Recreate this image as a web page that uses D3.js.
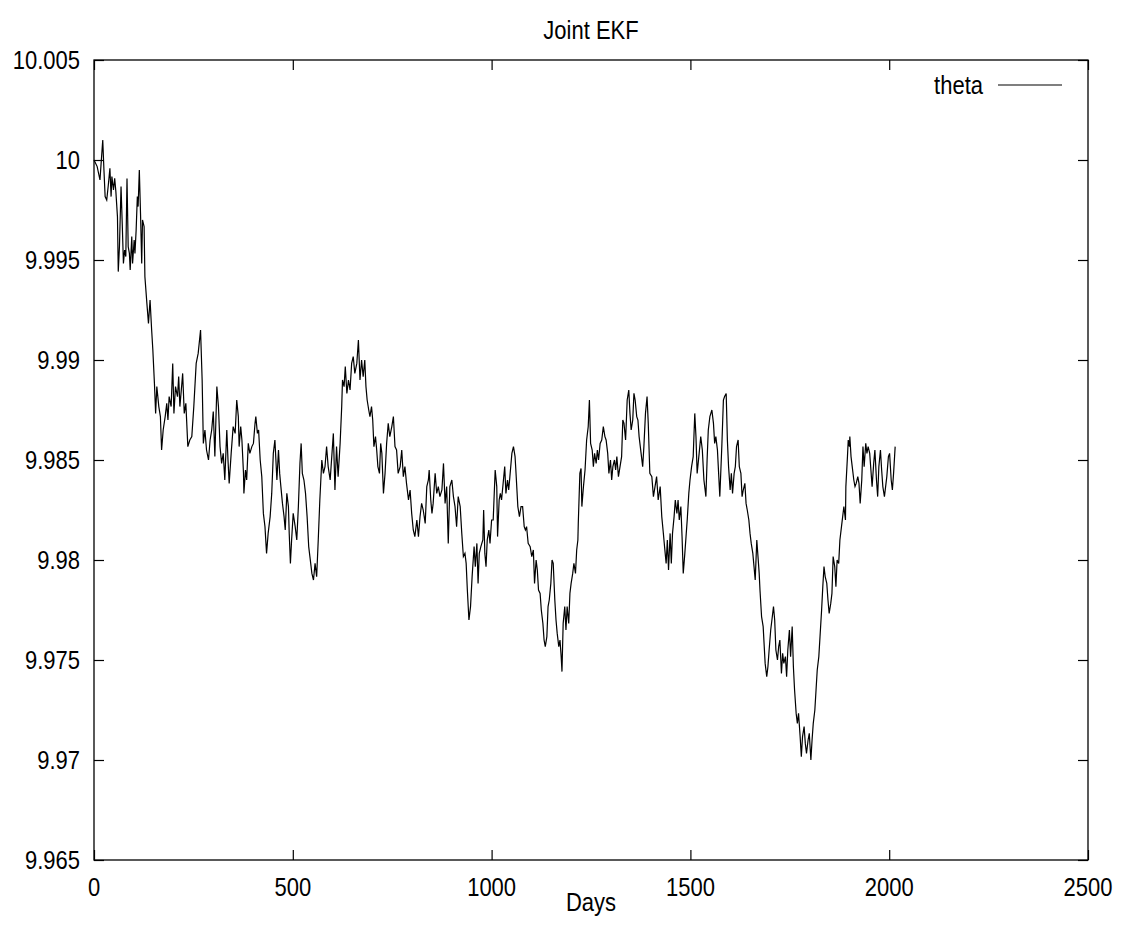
<!DOCTYPE html>
<html>
<head>
<meta charset="utf-8">
<script src="https://cdn.jsdelivr.net/npm/d3@7/dist/d3.min.js"></script>
<style>
  html, body { margin: 0; padding: 0; background: #fff; }
  text { font-family: "Liberation Sans", Arial, Helvetica, sans-serif; fill: #000; }
</style>
</head>
<body>
<svg id="chart" width="1133" height="944"></svg>
<script>
const title = "Joint EKF";
const xLabel = "Days";
const seriesName = "theta";
const xTicks = [0, 500, 1000, 1500, 2000, 2500];
const yTicks = [9.965, 9.97, 9.975, 9.98, 9.985, 9.99, 9.995, 10, 10.005];
const yTickLabels = ["9.965", "9.97", "9.975", "9.98", "9.985", "9.99", "9.995", "10", "10.005"];

const days = [
0,8,15,22,25,28,32,36,40,43,45,49,52,55,59,61,64,68,71,74,77,80,83,86,89,91,95,97,101,103,106,109,111,114,117,120,122,126,128,133,137,141,145,148,152,155,158,163,167,170,174,179,183,186,189,194,198,201,205,210,213,216,221,223,227,231,236,241,246,251,257,262,268,272,275,279,283,288,
292,296,300,304,309,313,317,321,325,329,334,337,340,345,350,355,359,363,365,369,372,376,377,381,384,388,392,397,401,405,407,411,414,418,422,426,430,434,438,443,447,451,455,460,464,467,470,474,478,481,485,489,491,494,497,501,506,510,514,518,521,524,528,532,536,540,543,548,552,556,560,564,568,573,577,581,585,589,594,
602,606,610,614,619,623,625,629,632,636,640,644,648,652,656,661,665,669,673,677,681,684,687,691,694,698,701,704,708,711,714,718,721,724,728,732,736,740,744,749,753,757,761,765,770,774,778,782,786,791,795,799,803,807,812,816,820,824,828,833,837,841,843,847,850,853,858,862,866,870,875,879,883,887,891,895,
900,904,908,912,916,921,925,929,933,936,939,943,947,951,956,959,963,966,969,973,978,980,983,986,989,993,996,1000,1004,1009,1013,1015,1019,1022,1025,1029,1033,1036,1040,1043,1046,1051,1055,1059,1061,1066,1070,1074,1078,1082,1085,1088,1092,1097,
1101,1105,1108,1112,1115,1118,1122,1125,1129,1132,1135,1139,1142,1145,1149,1152,1155,1159,1162,1165,1169,1172,1175,1177,1180,1184,1187,1190,1194,1197,1200,1204,1207,1211,1214,1217,
1218,1222,1225,1227,1231,1235,1239,1243,1246,1249,1253,1256,1259,1263,1266,1269,1273,1277,1281,1285,1288,1292,1295,1299,1302,1305,1309,1312,1315,1319,1323,1327,1330,1333,1337,1341,1345,1348,1351,1355,1358,1361,1365,1368,1371,1376,1380,1383,1387,1391,1394,1398,1403,1407,1411,1415,1419,1424,1428,1432,1435,1439,1442,1445,1449,1452,1455,1459,1462,1466,1469,1472,1476,1479,1482,1486,1489,1492,1496,1499,
1503,1507,1511,1514,1517,1522,1526,1530,1534,1539,1542,1545,1549,1554,1558,1561,1564,1568,1571,1574,1579,1583,1586,1590,1593,1596,1600,1603,1606,1610,1613,1616,1620,1623,1627,1630,1633,1637,1640,1643,1647,1650,1653,1657,1660,1663,1667,1670,1673,
1675,1679,1683,1688,1692,1695,1698,1702,1705,1709,1712,1715,1719,1722,1725,1729,1732,1735,1739,1742,1745,1749,1752,1756,1759,1762,1766,1769,1772,1776,1779,1782,1786,1789,1792,1796,1799,1803,1806,1809,1813,1816,1819,1823,1826,
1830,1833,1836,1839,1843,1846,1849,1853,1856,1859,1863,1866,1869,1873,1876,1880,1883,1886,1890,1891,1895,1897,1900,1901,1904,1907,1911,1914,1917,1921,1924,1927,1931,1934,1937,1941,1944,1947,1951,1954,1957,1961,1964,1968,1971,1974,1978,1981,1984,1988,1991,1994,1998,2001,2005,2008,2011,2015
];

const theta = [
10.0000,9.99967,9.9990,10.0010,9.9995,9.99817,9.9980,9.99875,9.99958,9.99817,9.99917,9.9985,9.99908,9.99842,9.99717,9.99442,9.99567,9.99867,9.99683,9.99483,9.9955,9.99517,9.99908,9.99567,9.99533,9.9945,9.99617,9.99483,9.996,9.99533,9.9965,9.99817,9.99767,9.9995,9.99733,9.99483,9.997,9.99667,9.99417,9.99283,9.99183,9.993,9.9915,9.9905,9.98883,9.98733,9.98867,9.98767,9.98717,9.9855,9.9865,9.98717,9.98783,9.987,9.98817,9.98767,9.98983,9.98733,9.98867,9.98817,9.98917,9.98767,9.98883,9.98933,9.98733,9.98783,9.98567,9.986,9.98617,9.98767,9.98983,9.99033,9.9915,9.989,9.98583,9.9865,9.9855,9.985,
9.986,9.9865,9.98742,9.98517,9.98867,9.98767,9.98567,9.98483,9.98533,9.984,9.9865,9.985,9.98383,9.98533,9.98667,9.98633,9.988,9.98717,9.98567,9.98667,9.986,9.98433,9.98333,9.9845,9.984,9.98583,9.98533,9.98567,9.98583,9.98683,9.98717,9.98633,9.9865,9.985,9.98417,9.98233,9.98167,9.98033,9.98133,9.98217,9.98333,9.98533,9.986,9.984,9.9855,9.98433,9.98367,9.98283,9.98217,9.9815,9.98333,9.98267,9.98133,9.97983,9.981,9.98233,9.98167,9.981,9.98267,9.98483,9.98583,9.98433,9.984,9.98333,9.98217,9.98067,9.98017,9.97933,9.979,9.97983,9.97917,9.981,9.983,9.985,9.98433,9.98467,9.98567,9.98467,9.984,
9.98633,9.9835,9.98567,9.98417,9.98583,9.98767,9.989,9.98867,9.98967,9.98833,9.989,9.9885,9.98983,9.99017,9.98933,9.98983,9.9910,9.989,9.9900,9.98917,9.9900,9.98867,9.988,9.9875,9.98717,9.98767,9.987,9.98567,9.98617,9.9855,9.98467,9.98433,9.98583,9.98533,9.98333,9.98433,9.98583,9.98683,9.98617,9.98667,9.98717,9.98567,9.9855,9.98433,9.98467,9.9855,9.98417,9.98467,9.98383,9.983,9.9835,9.98233,9.9815,9.98117,9.982,9.98117,9.98217,9.98283,9.9825,9.98183,9.98367,9.984,9.9845,9.983,9.98233,9.98283,9.98433,9.98333,9.98367,9.98317,9.9835,9.98483,9.98283,9.98367,9.98083,9.98367,
9.984,9.98317,9.98267,9.98167,9.98317,9.98267,9.98133,9.98017,9.98033,9.97983,9.9785,9.9770,9.97767,9.97917,9.98067,9.97967,9.98083,9.97883,9.98033,9.98067,9.9810,9.9825,9.98033,9.97967,9.9810,9.9815,9.98083,9.9820,9.9820,9.9845,9.98367,9.98117,9.9830,9.98333,9.9830,9.98383,9.98467,9.98333,9.9840,9.9835,9.98417,9.98533,9.98567,9.98517,9.9845,9.98267,9.98217,9.98267,9.98267,9.98167,9.9815,9.98167,9.98083,9.98067,
9.98017,9.9805,9.97883,9.9800,9.9795,9.9785,9.97833,9.9775,9.97683,9.9760,9.97567,9.97617,9.97767,9.9780,9.97883,9.9800,9.97983,9.9780,9.9770,9.97633,9.97567,9.9760,9.97517,9.97442,9.97683,9.97767,9.9765,9.97767,9.97683,9.97833,9.97883,9.97933,9.97983,9.97933,9.9805,9.9810,
9.98183,9.98433,9.98458,9.98267,9.98367,9.9845,9.9860,9.98667,9.9880,9.98583,9.9855,9.98467,9.98533,9.98483,9.9855,9.9850,9.98583,9.9860,9.98667,9.98617,9.9860,9.98533,9.98433,9.9850,9.9840,9.98467,9.9850,9.9845,9.98517,9.98417,9.98467,9.98517,9.9870,9.98683,9.9860,9.9880,9.9885,9.98733,9.9865,9.9870,9.98833,9.9880,9.98717,9.9870,9.98617,9.98533,9.98467,9.98567,9.98733,9.98817,9.98683,9.98433,9.98417,9.98317,9.98367,9.98417,9.9830,9.98367,9.98217,9.98133,9.98067,9.97983,9.9810,9.9795,9.98133,9.97983,9.98133,9.98217,9.9830,9.98233,9.9830,9.9820,9.98267,9.98117,9.97933,9.98033,9.98117,9.9820,9.98333,9.9840,
9.98467,9.98517,9.98733,9.98617,9.98433,9.98533,9.98617,9.9855,9.9840,9.98317,9.9850,9.9865,9.98717,9.9875,9.98683,9.98583,9.98617,9.9855,9.98433,9.98317,9.98567,9.9880,9.98817,9.98833,9.9860,9.98467,9.9835,9.98433,9.98333,9.98433,9.98467,9.98567,9.9860,9.98467,9.98433,9.98317,9.9835,9.98383,9.98283,9.9825,9.9820,9.98133,9.98083,9.98033,9.97967,9.9790,9.9810,9.98017,9.97933,
9.9785,9.97717,9.97667,9.97483,9.97417,9.97467,9.9755,9.9765,9.9770,9.97767,9.9770,9.9755,9.9750,9.97567,9.9760,9.97433,9.97533,9.97483,9.97517,9.97417,9.9755,9.9765,9.97517,9.97667,9.97467,9.9735,9.97233,9.97183,9.97233,9.97117,9.97017,9.97117,9.97167,9.97083,9.97033,9.9710,9.97133,9.9700,9.9710,9.97183,9.9725,9.9735,9.9745,9.97517,9.97617,
9.9775,9.97867,9.97967,9.97917,9.97883,9.9780,9.97733,9.97783,9.97833,9.98017,9.97967,9.97867,9.9800,9.97983,9.9810,9.98167,9.98217,9.98267,9.9820,9.98367,9.98517,9.9860,9.98567,9.98617,9.98517,9.98467,9.9840,9.98367,9.98383,9.98417,9.98383,9.98283,9.9840,9.98567,9.98467,9.98583,9.98533,9.98567,9.98533,9.9845,9.98367,9.98483,9.9855,9.9840,9.98317,9.98467,9.9855,9.9845,9.98367,9.98317,9.98367,9.98417,9.98517,9.98533,9.9840,9.9835,9.98433,9.98567
];

const W = 1133, H = 944;
const margin = { left: 94, right: 1088, top: 60, bottom: 860 };
const svg = d3.select("#chart");

const x = d3.scaleLinear().domain([0, 2500]).range([margin.left, margin.right]);
const y = d3.scaleLinear().domain([9.965, 10.005]).range([margin.bottom, margin.top]);

const FS = 22, SY = 1.14;
function label(px, py, str, anchor) {
  svg.append("text")
    .attr("transform", `translate(${px},${py}) scale(1,${SY})`)
    .attr("text-anchor", anchor)
    .attr("font-size", FS)
    .text(str);
}

// ticks (inward, mirrored on all four sides)
const tickLen = 10;
const axisStyle = g => {
  g.select(".domain").remove();
  g.selectAll(".tick line").attr("stroke", "#000").attr("stroke-width", 1.2);
  g.selectAll(".tick text").remove();
};
svg.append("g").attr("transform", `translate(0,${margin.bottom})`)
  .call(d3.axisBottom(x).tickValues(xTicks).tickSize(-tickLen)).call(axisStyle);
svg.append("g").attr("transform", `translate(0,${margin.top})`)
  .call(d3.axisTop(x).tickValues(xTicks).tickSize(-tickLen)).call(axisStyle);
svg.append("g").attr("transform", `translate(${margin.left},0)`)
  .call(d3.axisLeft(y).tickValues(yTicks).tickSize(-tickLen)).call(axisStyle);
svg.append("g").attr("transform", `translate(${margin.right},0)`)
  .call(d3.axisRight(y).tickValues(yTicks).tickSize(-tickLen)).call(axisStyle);

// frame
svg.append("rect")
  .attr("x", margin.left).attr("y", margin.top)
  .attr("width", margin.right - margin.left).attr("height", margin.bottom - margin.top)
  .attr("fill", "none").attr("stroke", "#000").attr("stroke-width", 1.3);

// tick labels
yTicks.forEach((v, i) => label(80, y(v) + 8.5, yTickLabels[i], "end"));
xTicks.forEach(v => label(x(v), 896, String(v), "middle"));

// titles
label(591, 39, title, "middle");
label(591, 911, xLabel, "middle");

// series
const data = days.map((d, i) => ({ d, v: theta[i] }));
svg.append("path")
  .datum(data)
  .attr("fill", "none")
  .attr("stroke", "#000")
  .attr("stroke-width", 1.2)
  .attr("stroke-linejoin", "miter")
  .attr("d", d3.line().x(p => x(p.d)).y(p => y(p.v)));

// legend
label(983, 94, seriesName, "end");
svg.append("line")
  .attr("x1", 998).attr("x2", 1062).attr("y1", 85).attr("y2", 85)
  .attr("stroke", "#000").attr("stroke-width", 1.2);
</script>
</body>
</html>
